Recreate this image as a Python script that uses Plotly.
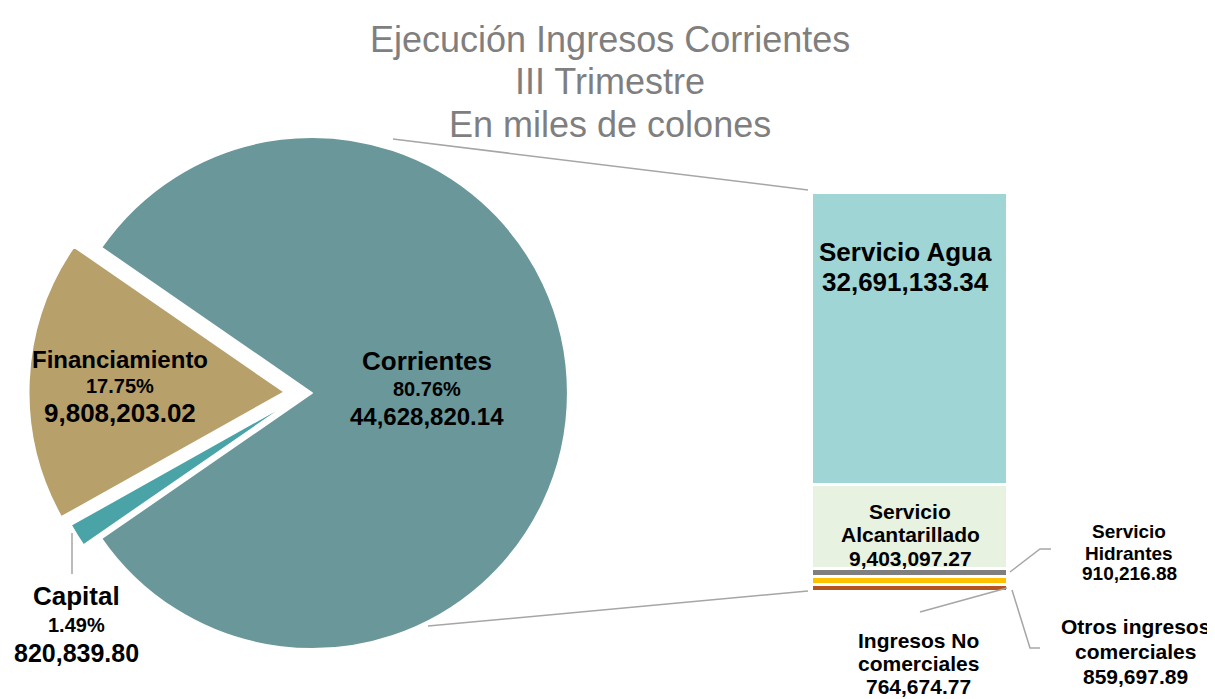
import plotly.graph_objects as go

# ---------------- data ----------------
pie_labels = ["Corrientes", "Capital", "Financiamiento"]
pie_values = [44628820.14, 820839.80, 9808203.02]
pie_colors = ["#6a9799", "#4aa3a6", "#b7a06a"]
pie_pull = [0.027, 0.05, 0.08]

bar_labels = ["Ingresos No comerciales", "Otros ingresos comerciales",
              "Servicio Hidrantes", "Servicio Alcantarillado", "Servicio Agua"]
bar_values = [764674.77, 859697.89, 910216.88, 9403097.27, 32691133.34]
bar_colors = ["#b5541c", "#ffc000", "#7f7f7f", "#e8f2e0", "#9fd5d4"]

title_lines = ["Ejecución Ingresos Corrientes", "III Trimestre", "En miles de colones"]

# page has an 8px body margin; figure sized to fill the rest of the window
OFF = 8
FW, FH = 1215 - OFF, 699 - OFF

def px(x, y):
    """screen pixel -> paper coordinates"""
    return (x - OFF) / FW, 1 - (y - OFF) / FH

def fmt(v):
    return f"{v:,.2f}"

total_pie = sum(pie_values)
pct = [v / total_pie * 100 for v in pie_values]
corr_angle = pct[0] * 3.6
rotation = 90 - corr_angle / 2

fig = go.Figure()

# pie (centre at screen ~ (305, 393))
pcx, pcy = px(305, 393)
half_w = 276.5 / FW
half_h = 276.5 / FH
fig.add_trace(go.Pie(
    labels=pie_labels, values=pie_values, sort=False, direction="clockwise",
    rotation=rotation, pull=pie_pull,
    marker=dict(colors=pie_colors, line=dict(color="white", width=2)),
    textinfo="none", hoverinfo="label+value+percent", showlegend=False,
    domain=dict(x=[pcx - half_w, pcx + half_w], y=[pcy - half_h, pcy + half_h]),
))

# stacked bar
for lab, val, col in zip(bar_labels, bar_values, bar_colors):
    fig.add_trace(go.Bar(
        x=["Corrientes"], y=[val], name=lab,
        marker=dict(color=col, line=dict(color="white", width=3)),
        showlegend=False, hoverinfo="name+y",
    ))

bar_total = sum(bar_values)
bx0, by0 = px(812, 592)
bx1, by1 = px(1008, 193)
fig.update_layout(
    barmode="stack", bargap=0,
    width=FW, height=FH,
    margin=dict(l=0, r=0, t=0, b=0),
    paper_bgcolor="white", plot_bgcolor="white",
    font=dict(family="Liberation Sans, Arial, sans-serif", color="black"),
    xaxis=dict(domain=[bx0, bx1], visible=False, range=[-0.5, 0.5], fixedrange=True),
    yaxis=dict(domain=[by0, by1], visible=False, range=[0, bar_total], fixedrange=True),
)

annotations = []

def lines_label(lines, cx, ys, sizes, bold=True, color="black"):
    for t, y, s in zip(lines, ys, sizes):
        x, yy = px(cx, y)
        annotations.append(dict(
            text=f"<b>{t}</b>" if bold else t, x=x, y=yy, xref="paper", yref="paper",
            xanchor="center", yanchor="middle", showarrow=False,
            font=dict(size=s, color=color)))

# title
lines_label(title_lines, 610, [39, 82, 124], [36, 36, 36], bold=False, color="#7f7f7f")

# pie labels
lines_label([pie_labels[0], f"{pct[0]:.2f}%", fmt(pie_values[0])], 427, [361, 389, 416], [26, 20, 24])
lines_label([pie_labels[2], f"{pct[2]:.2f}%", fmt(pie_values[2])], 120, [359, 386, 413], [24, 20, 26])
lines_label([pie_labels[1], f"{pct[1]:.2f}%", fmt(pie_values[1])], 76, [596, 625, 653], [26, 20, 25])

# bar labels
lines_label(["Servicio Agua", fmt(bar_values[4])], 905, [252, 282], [26, 26])
lines_label(["Servicio", "Alcantarillado", fmt(bar_values[3])], 910, [511, 534, 558], [21, 21, 21])
lines_label(["Servicio", "Hidrantes", fmt(bar_values[2])], 1129, [531, 553, 573], [19, 19, 19])
lines_label(["Otros ingresos", "comerciales", fmt(bar_values[1])], 1135, [626, 651, 676], [21, 21, 21])
lines_label(["Ingresos No", "comerciales", fmt(bar_values[0])], 918, [640, 663, 686], [21, 21, 21])

fig.update_layout(annotations=annotations)

# connector / leader lines
def path(points, color="#a6a6a6", width=1.5):
    d = ""
    for i, (x, y) in enumerate(points):
        X, Y = px(x, y)
        d += ("M" if i == 0 else "L") + f"{X},{Y} "
    fig.add_shape(type="path", path=d, xref="paper", yref="paper",
                  line=dict(color=color, width=width))

path([(393, 139), (808, 190)])
path([(428, 626), (808, 591)])
path([(1010, 572), (1040, 549), (1051, 549)])
path([(1012, 590), (1030, 648), (1040, 648)])
path([(1007, 588), (920, 612)])
path([(72, 533), (72, 574)])

fig.write_html("out.html", config=dict(displayModeBar=False))
